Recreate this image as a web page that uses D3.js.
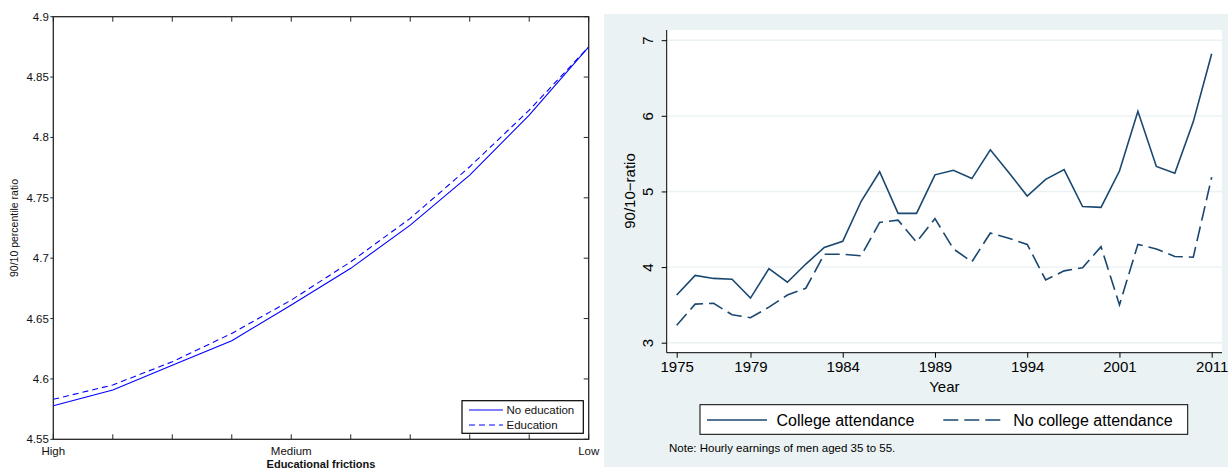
<!DOCTYPE html>
<html>
<head>
<meta charset="utf-8">
<script src="https://cdn.jsdelivr.net/npm/d3@7"></script>
<style>
  html, body { margin: 0; padding: 0; background: #fff; }
  svg { display: block; font-family: "Liberation Sans", Arial, sans-serif; }
</style>
</head>
<body>
<svg id="fig" width="1228" height="468"></svg>
<script>
// ---- Left panel: model simulation across education frictions ----
const frictionSteps = [1, 2, 3, 4, 5, 6, 7, 8, 9, 10];
const frictionTickLabels = { 1: "High", 5: "Medium", 10: "Low" };
const noEducation = [4.5778, 4.5908, 4.6113, 4.6316, 4.6612, 4.6916, 4.7274, 4.7688, 4.8185, 4.875];
const withEducation = [4.5831, 4.5950, 4.6142, 4.6377, 4.6653, 4.6970, 4.7330, 4.7757, 4.8226, 4.875];
const leftYTicks = [4.55, 4.6, 4.65, 4.7, 4.75, 4.8, 4.85, 4.9];

// ---- Right panel: observed 90/10 ratio by survey wave ----
const waveIndex = d3.range(30);
const waveTickIdx = [0, 4, 9, 14, 19, 24, 29];
const waveTickLabels = ["1975", "1979", "1984", "1989", "1994", "2001", "2011"];
const college = [3.63, 3.89, 3.85, 3.84, 3.59, 3.98, 3.80, 4.04, 4.26, 4.34,
                 4.87, 5.26, 4.71, 4.71, 5.22, 5.28, 5.17, 5.55, 5.25, 4.94,
                 5.16, 5.29, 4.80, 4.79, 5.27, 6.06, 5.33, 5.24, 5.92, 6.82];
const noCollege = [3.23, 3.51, 3.52, 3.37, 3.33, 3.47, 3.63, 3.72, 4.17, 4.17,
                   4.15, 4.59, 4.62, 4.33, 4.64, 4.24, 4.07, 4.45, 4.38, 4.30,
                   3.83, 3.95, 3.99, 4.27, 3.50, 4.30, 4.24, 4.14, 4.13, 5.19];
const rightYTicks = [3, 4, 5, 6, 7];

const svg = d3.select("#fig");

// ================= Left panel =================
const L = { x0: 53.3, x1: 588.7, y0: 16.7, y1: 439.3 };
const lx = d3.scaleLinear().domain([1, 10]).range([L.x0, L.x1]);
const ly = d3.scaleLinear().domain([4.55, 4.9]).range([L.y1, L.y0]);
const left = svg.append("g");
const axisColor = "#262626";

// inward ticks on bottom/top, short stub on left, inward on right
frictionSteps.forEach(s => {
  left.append("line").attr("x1", lx(s)).attr("x2", lx(s))
    .attr("y1", L.y1).attr("y2", L.y1 - 5).attr("stroke", axisColor);
  left.append("line").attr("x1", lx(s)).attr("x2", lx(s))
    .attr("y1", L.y0).attr("y2", L.y0 + 5).attr("stroke", axisColor);
});
leftYTicks.forEach(t => {
  left.append("line").attr("x1", L.x0 - 3).attr("x2", L.x0)
    .attr("y1", ly(t)).attr("y2", ly(t)).attr("stroke", axisColor);
  left.append("line").attr("x1", L.x1).attr("x2", L.x1 - 5)
    .attr("y1", ly(t)).attr("y2", ly(t)).attr("stroke", axisColor);
  left.append("text").attr("x", L.x0 - 4.5).attr("y", ly(t) + 4)
    .attr("text-anchor", "end").attr("font-size", 11.5).attr("fill", "#111")
    .text(String(t));
});
Object.entries(frictionTickLabels).forEach(([s, lab]) => {
  left.append("text").attr("x", lx(+s)).attr("y", 455)
    .attr("text-anchor", "middle").attr("font-size", 11.5).attr("fill", "#111").text(lab);
});
left.append("text").attr("x", (L.x0 + L.x1) / 2).attr("y", 467.5)
  .attr("text-anchor", "middle").attr("font-size", 11).attr("font-weight", "bold")
  .attr("fill", "#111").text("Educational frictions");
left.append("text")
  .attr("transform", `translate(17.5,${(L.y0 + L.y1) / 2}) rotate(-90)`)
  .attr("text-anchor", "middle").attr("font-size", 10.5).attr("fill", "#111")
  .text("90/10 percentile ratio");

const lLine = d3.line().x((d, i) => lx(frictionSteps[i])).y(d => ly(d));
left.append("path").datum(withEducation).attr("d", lLine)
  .attr("fill", "none").attr("stroke", "#0000ff").attr("stroke-width", 1.1)
  .attr("stroke-dasharray", "6,4");
left.append("path").datum(noEducation).attr("d", lLine)
  .attr("fill", "none").attr("stroke", "#0000ff").attr("stroke-width", 1.1);

left.append("rect").attr("x", L.x0).attr("y", L.y0)
  .attr("width", L.x1 - L.x0).attr("height", L.y1 - L.y0)
  .attr("fill", "none").attr("stroke", axisColor).attr("stroke-width", 1.3);

// legend
const lg = left.append("g");
lg.append("rect").attr("x", 462).attr("y", 400.7).attr("width", 121.3).attr("height", 32.6)
  .attr("fill", "#fff").attr("stroke", "#000").attr("stroke-width", 1.2);
[["No education", null, 410], ["Education", "6,4", 425]].forEach(([lab, dash, yy]) => {
  lg.append("line").attr("x1", 469).attr("x2", 503).attr("y1", yy).attr("y2", yy)
    .attr("stroke", "#0000ff").attr("stroke-width", 1.1)
    .attr("stroke-dasharray", dash);
  lg.append("text").attr("x", 506.5).attr("y", yy + 4.2).attr("font-size", 11.5)
    .attr("fill", "#111").text(lab);
});

// ================= Right panel =================
const bg = "#eaf2f3";
const navy = "#1a476f";
svg.append("rect").attr("x", 604).attr("y", 14).attr("width", 624).attr("height", 453).attr("fill", bg);
const R = { x0: 666.7, x1: 1222, y0: 30, y1: 352.7 };
const rx = d3.scaleLinear().domain([0, 29]).range([676.7, 1211.7]);
const ry = d3.scaleLinear().domain([3, 7]).range([342.7, 40.2]);
const right = svg.append("g");
right.append("rect").attr("x", R.x0).attr("y", R.y0)
  .attr("width", R.x1 - R.x0).attr("height", R.y1 - R.y0).attr("fill", "#fff");

// gridlines
right.selectAll(".grid").data(rightYTicks).join("line")
  .attr("x1", R.x0).attr("x2", R.x1).attr("y1", d => ry(d)).attr("y2", d => ry(d))
  .attr("stroke", bg).attr("stroke-width", 1.4);

// y axis
const yAxis = d3.axisLeft(ry).tickValues(rightYTicks).tickSize(5).tickPadding(4).tickFormat(d3.format("d"));
const yg = right.append("g").attr("transform", `translate(${R.x0},0)`).call(yAxis);
yg.select(".domain").remove();
yg.selectAll(".tick line").attr("stroke", "#000");
yg.selectAll(".tick text")
  .attr("transform", "rotate(-90)").attr("x", 0).attr("y", -13.5).attr("dy", 0)
  .attr("text-anchor", "middle").attr("font-size", 15).attr("fill", "#000")
  .attr("font-family", "Liberation Sans, Arial, sans-serif");
right.append("line").attr("x1", R.x0).attr("x2", R.x0).attr("y1", R.y0).attr("y2", R.y1)
  .attr("stroke", "#000").attr("stroke-width", 1);

// x axis
const xAxis = d3.axisBottom(rx).tickValues(waveTickIdx).tickSize(5).tickPadding(4)
  .tickFormat((d, i) => waveTickLabels[i]);
const xg = right.append("g").attr("transform", `translate(0,${R.y1})`).call(xAxis);
xg.select(".domain").remove();
xg.selectAll(".tick line").attr("stroke", "#000");
xg.selectAll(".tick text").attr("font-size", 15).attr("fill", "#000").attr("dy", "0.71em")
  .attr("font-family", "Liberation Sans, Arial, sans-serif");
right.append("line").attr("x1", R.x0).attr("x2", R.x1).attr("y1", R.y1).attr("y2", R.y1)
  .attr("stroke", "#000").attr("stroke-width", 1);

right.append("text").attr("x", (R.x0 + R.x1) / 2).attr("y", 392)
  .attr("text-anchor", "middle").attr("font-size", 15).attr("fill", "#000").text("Year");
right.append("text")
  .attr("transform", `translate(635,191) rotate(-90)`)
  .attr("text-anchor", "middle").attr("font-size", 15).attr("fill", "#000").text("90/10\u2212ratio");

// series
const rLine = d3.line().x((d, i) => rx(waveIndex[i])).y(d => ry(d));
right.append("path").datum(college).attr("d", rLine)
  .attr("fill", "none").attr("stroke", navy).attr("stroke-width", 1.6)
  .attr("stroke-linejoin", "miter");
right.append("path").datum(noCollege).attr("d", rLine)
  .attr("fill", "none").attr("stroke", navy).attr("stroke-width", 1.6)
  .attr("stroke-dasharray", "15,6");

// legend
const rl = right.append("g");
rl.append("rect").attr("x", 700).attr("y", 404.7).attr("width", 487.7).attr("height", 29.6)
  .attr("fill", "#fff").attr("stroke", "#000").attr("stroke-width", 1);
rl.append("line").attr("x1", 707).attr("x2", 767).attr("y1", 420).attr("y2", 420)
  .attr("stroke", navy).attr("stroke-width", 1.6);
rl.append("text").attr("x", 776.5).attr("y", 425.5).attr("font-size", 16).attr("fill", "#000")
  .text("College attendance");
rl.append("line").attr("x1", 943.3).attr("x2", 1004).attr("y1", 420).attr("y2", 420)
  .attr("stroke", navy).attr("stroke-width", 1.6).attr("stroke-dasharray", "15,6");
rl.append("text").attr("x", 1013.3).attr("y", 425.5).attr("font-size", 16).attr("fill", "#000")
  .text("No college attendance");

right.append("text").attr("x", 669).attr("y", 452.3).attr("font-size", 11.5).attr("fill", "#000")
  .text("Note: Hourly earnings of men aged 35 to 55.");
</script>
</body>
</html>
